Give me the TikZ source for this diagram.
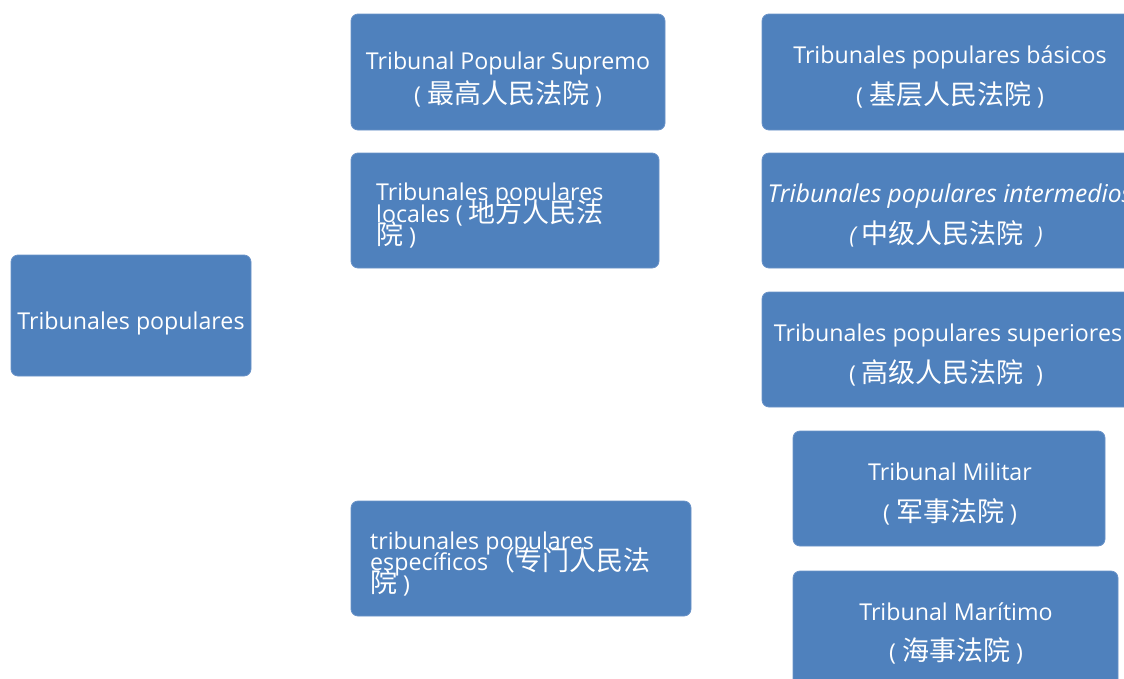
\documentclass[tikz,border=0pt]{standalone}
\usepackage{fontspec}
\setmainfont{Open Sans}
\newfontfamily\cjk{Noto Sans CJK SC}
\definecolor{boxblue}{HTML}{4F81BD}
\definecolor{boxedge}{HTML}{6A93C8}
\tikzset{
  box/.style={fill=boxblue, draw=boxedge, line width=0.8pt, rounded corners=7pt, inner sep=0pt},
  ztxt/.style={text=white, inner sep=0pt, font=\fontsize{23.2}{22}\selectfont, anchor=base},
}
\newcommand{\zh}[1]{{\cjk\fontsize{27}{22}\selectfont #1}}
\begin{document}
\begin{tikzpicture}[x=1pt,y=-1pt]
\useasboundingbox (0,0) rectangle (1124,678);
% boxes
\node[box, minimum width=240pt, minimum height=121pt] (root) at (131,315.5) {};
\node[box, minimum width=314pt, minimum height=116pt] (sup) at (508,72) {};
\node[box, minimum width=308pt, minimum height=115pt] (loc) at (505,210.5) {};
\node[box, minimum width=340pt, minimum height=115pt] (esp) at (521,558.5) {};
\node[box, minimum width=376pt, minimum height=116pt] (bas) at (950,72) {};
\node[box, minimum width=376pt, minimum height=115pt] (int) at (950,210.5) {};
\node[box, minimum width=376pt, minimum height=115pt] (supr) at (950,349.5) {};
\node[box, minimum width=312pt, minimum height=115pt] (mil) at (949,488.5) {};
\node[box, minimum width=325pt, minimum height=120pt] (mar) at (955.5,631) {};
% texts
\node[ztxt] (t0) at (131,329) {Tribunales populares};
\node[ztxt] (t1a) at (508,69) {Tribunal Popular Supremo};
\node[ztxt] (t1b) at (508,103) {( \zh{最高人民法院} )};
\node[ztxt, anchor=base west] (t2a) at (376,200) {Tribunales populares};
\node[ztxt, anchor=base west] (t2b) at (376,222) {locales ( \zh{地方人民法}};
\node[ztxt, anchor=base west] (t2c) at (376,244) {\zh{院} )};
\node[ztxt, anchor=base west] (t3a) at (370,549) {tribunales populares};
\node[ztxt, anchor=base west] (t3b) at (370,570) {específicos\zh{（专门人民法}};
\node[ztxt, anchor=base west] (t3c) at (370,592) {\zh{院} )};
\node[ztxt] (t4a) at (950,63) {Tribunales populares básicos};
\node[ztxt] (t4b) at (950,104) {( \zh{基层人民法院} )};
\node[ztxt, font=\fontsize{24.6}{22}\selectfont\itshape] (t5a) at (950,202) {Tribunales populares intermedios};
\node[ztxt] (t5b) at (946,243) {\itshape ( \zh{中级人民法院}\ \ )};
\node[ztxt] (t6a) at (948,341) {Tribunales populares superiores};
\node[ztxt] (t6b) at (946,382) {( \zh{高级人民法院}\ \ )};
\node[ztxt] (t7a) at (950,480) {Tribunal Militar};
\node[ztxt] (t7b) at (950,521) {( \zh{军事法院} )};
\node[ztxt] (t8a) at (956,620) {Tribunal Marítimo};
\node[ztxt] (t8b) at (956,660) {( \zh{海事法院} )};
\end{tikzpicture}
\end{document}
